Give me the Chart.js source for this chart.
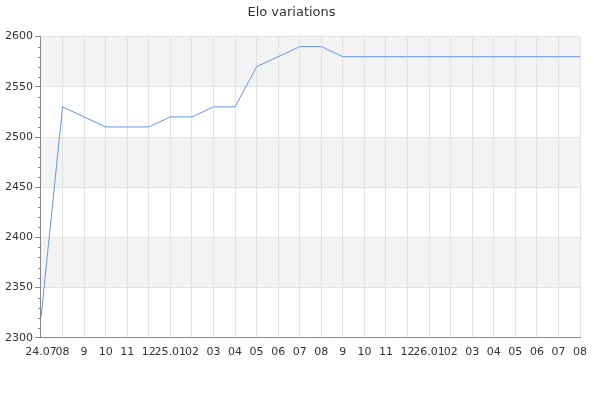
<!DOCTYPE html>
<html>
<head>
<meta charset="utf-8">
<script src="https://cdn.jsdelivr.net/npm/chart.js@4/dist/chart.umd.min.js"></script>
<style>
html,body{margin:0;padding:0;background:#fff;}
#wrap{width:600px;height:400px;}
</style>
</head>
<body>
<div id="wrap"><canvas id="c" width="600" height="400"></canvas></div>
<script>
const categories = ["24.07","08","9","10","11","12","25.01","02","03","04","05","06","07","08","9","10","11","12","26.01","02","03","04","05","06","07","08"];
const eloValues = [2320,2530,2520,2510,2510,2510,2520,2520,2530,2530,2570,2580,2590,2590,2580,2580,2580,2580,2580,2580,2580,2580,2580,2580,2580,2580];
const yMin = 2300, yMax = 2600, yStep = 50, yMinorStep = 10;

const bandsPlugin = {
  id: 'bands',
  beforeDraw(chart) {
    const {ctx, chartArea, scales} = chart;
    const y = scales.y;
    ctx.save();
    ctx.fillStyle = '#f3f3f3';
    for (let v = yMax; v > yMin; v -= 2 * yStep) {
      const top = y.getPixelForValue(v);
      const bot = y.getPixelForValue(v - yStep);
      ctx.fillRect(chartArea.left, top, chartArea.right - chartArea.left, bot - top);
    }
    ctx.restore();
  },
  afterDraw(chart) {
    const {ctx, chartArea, scales} = chart;
    const y = scales.y;
    ctx.save();
    ctx.strokeStyle = '#888';
    ctx.lineWidth = 1;
    ctx.beginPath();
    for (let v = yMin; v <= yMax; v += yMinorStep) {
      if (v % yStep === 0) continue;
      const py = Math.round(y.getPixelForValue(v)) + 0.5;
      ctx.moveTo(chartArea.left - 3, py);
      ctx.lineTo(chartArea.left, py);
    }
    ctx.stroke();
    ctx.restore();
  }
};

new Chart(document.getElementById('c'), {
  type: 'line',
  data: {
    labels: categories,
    datasets: [{
      data: eloValues,
      borderColor: '#6495ed',
      borderWidth: 1,
      pointRadius: 0,
      tension: 0,
      fill: false
    }]
  },
  options: {
    responsive: false,
    animation: false,
    devicePixelRatio: 1,
    layout: { padding: { left: 3, right: 20, top: 0, bottom: 33 } },
    plugins: {
      legend: { display: false },
      tooltip: { enabled: false },
      title: {
        display: true,
        text: 'Elo variations',
        color: '#333',
        font: { family: 'DejaVu Sans', size: 13, weight: 'normal' },
        padding: { top: 5, bottom: 16 }
      }
    },
    scales: {
      x: {
        offset: false,
        grid: { color: '#e2e2e2', drawTicks: false },
        border: { color: '#888' },
        ticks: {
          autoSkip: false, maxRotation: 0, minRotation: 0,
          color: '#333', padding: 8,
          font: { family: 'DejaVu Sans', size: 11 }
        }
      },
      y: {
        min: yMin, max: yMax,
        grid: { color: '#e2e2e2', tickColor: '#888', tickLength: 6 },
        border: { color: '#888' },
        ticks: {
          stepSize: yStep, color: '#333', padding: 2,
          callback: (v) => String(v),
          font: { family: 'DejaVu Sans', size: 11 }
        }
      }
    }
  },
  plugins: [bandsPlugin]
});
</script>
</body>
</html>
